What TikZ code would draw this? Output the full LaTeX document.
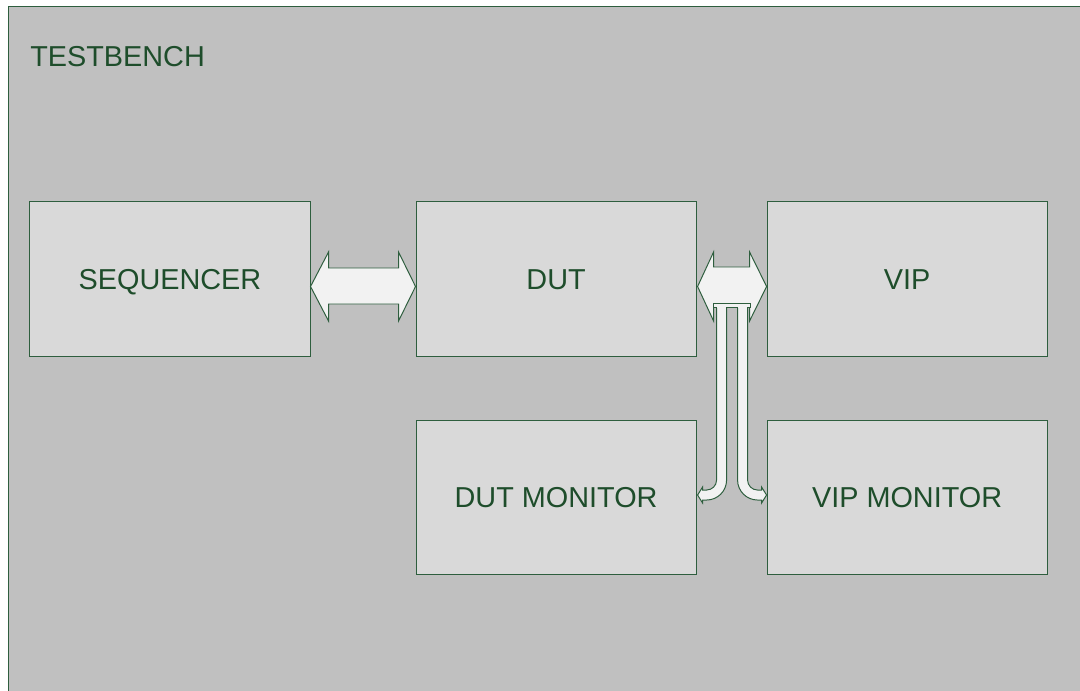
\documentclass[tikz,border=0pt]{standalone}
\usepackage{fontspec}
\setmainfont{Liberation Sans}
\usetikzlibrary{positioning, calc}

\definecolor{benchgray}{HTML}{C0C0C0}
\definecolor{boxgray}{HTML}{D9D9D9}
\definecolor{arrowfill}{HTML}{F2F2F2}
\definecolor{edgegreen}{HTML}{2E5E3E}
\definecolor{textgreen}{HTML}{1E4D2B}

\begin{document}
\begin{tikzpicture}[x=0.025cm, y=-0.025cm,
    block/.style={draw=edgegreen, fill=boxgray, line width=0.7pt,
        minimum width=7cm, minimum height=3.85cm, inner sep=0pt,
        text height=14.7pt, text depth=0pt,
        text=textgreen, font=\fontsize{20.5}{24}\selectfont},
    blockarrow/.style={draw=edgegreen, fill=arrowfill, line width=0.7pt, line join=miter}]
    % Rahmen des Bildes
    \useasboundingbox (0,0) rectangle (1080,691);
    \clip (0,0) rectangle (1080,691);

    % Testbench als grosser Kasten
    \draw[draw=edgegreen, fill=benchgray, line width=0.7pt] (8,6) rectangle (1100,710);
    \node[anchor=west, inner sep=0pt, text height=14.7pt, text depth=0pt, text=textgreen,
        font=\fontsize{20.5}{24}\selectfont] (tb) at (30,56) {TESTBENCH};

    % Bloecke
    \node[block] (seq) at (170,279) {SEQUENCER};
    \node[block, right=105 of seq.east, anchor=west] (dut) {DUT};
    \node[block, right=70 of dut.east, anchor=west] (vip) {VIP};
    \node[block, anchor=north] (dutmon) at ($(dut.south)+(0,63)$) {DUT MONITOR};
    \node[block, anchor=north] (vipmon) at ($(vip.south)+(0,63)$) {VIP MONITOR};

    % Doppelpfeil SEQUENCER <-> DUT
    \coordinate (a1l) at ($(seq.east)+(0,7.5)$);
    \coordinate (a1r) at ($(dut.west)+(0,7.5)$);
    \draw[blockarrow] (a1l) -- ++(18,-34.5) -- ++(0,16) -- ($(a1r)+(-17,-18.5)$)
        -- ++(0,-16) -- (a1r) -- ++(-17,34.5) -- ++(0,-17)
        -- ($(a1l)+(18,17.5)$) -- ++(0,17) -- cycle;

    % Bogenpfeile zu den Monitoren
    \coordinate (m1) at ($(dutmon.east)+(20,-192)$);
    \draw[blockarrow] (m1) -- ++(10,0) -- ++(0,175)
        arc[start angle=0, end angle=90, radius=20] -- ++(-4,0) -- ++(0,3)
        -- ($(dutmon.east)+(1,-2)$) -- ++(5,-8) -- ++(0,3) -- ++(4,0)
        arc[start angle=90, end angle=0, radius=10] -- cycle;
    \coordinate (m2) at ($(vipmon.west)+(-19,-192)$);
    \draw[blockarrow] (m2) -- ++(-10,0) -- ++(0,175)
        arc[start angle=180, end angle=90, radius=20] -- ++(4,0) -- ++(0,3)
        -- ($(vipmon.west)+(0,-2)$) -- ++(-5,-8) -- ++(0,3) -- ++(-4,0)
        arc[start angle=90, end angle=180, radius=10] -- cycle;

    % Doppelpfeil DUT <-> VIP
    \coordinate (a2l) at ($(dut.east)+(1,7.5)$);
    \coordinate (a2r) at ($(vip.west)+(0,7.5)$);
    \draw[blockarrow] (a2l) -- ++(16,-34.5) -- ++(0,15) -- ($(a2r)+(-17,-19.5)$)
        -- ++(0,-15) -- (a2r) -- ++(-17,34.5) -- ++(0,-17)
        -- ($(a2l)+(16,17.5)$) -- ++(0,17) -- cycle;
    % Ansatz der Bogenpfeile
    \draw[blockarrow] ($(m1)+(-3,-2)$) rectangle ($(m2)+(3,2)$);
    \fill[arrowfill] ($(m1)+(0.5,-1)$) rectangle ($(m1)+(9.5,3)$);
    \fill[arrowfill] ($(m2)+(-0.5,-1)$) rectangle ($(m2)+(-9.5,3)$);
\end{tikzpicture}
\end{document}
